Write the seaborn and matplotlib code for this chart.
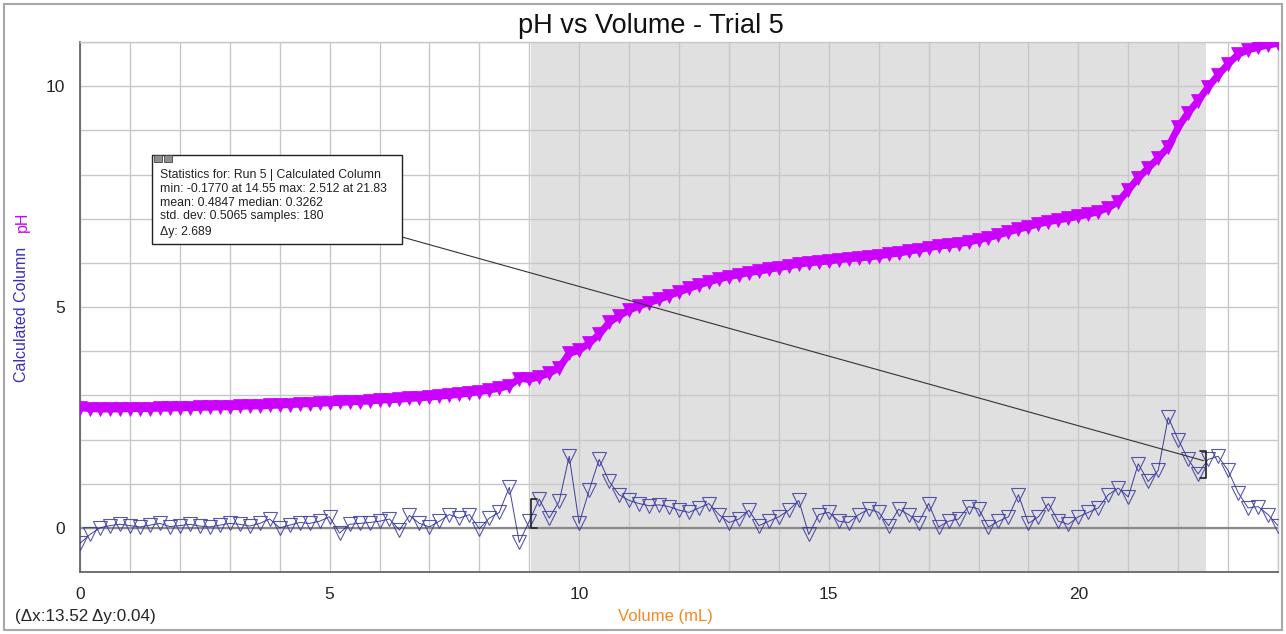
import numpy as np
import matplotlib
matplotlib.use("Agg")
import matplotlib.pyplot as plt
from matplotlib.patches import Rectangle
from matplotlib.ticker import MultipleLocator
import seaborn as sns

sns.set_style("white")
plt.rcParams["font.family"] = ["Liberation Sans", "DejaVu Sans"]

PH_COLOR = "#cc00ff"
CALC_COLOR = "#1f1f8f"

# titrant volume (mL), one reading every 0.2 mL
volume = [
    0.0, 0.2, 0.4, 0.6, 0.8, 1.0, 1.2, 1.4, 1.6, 1.8, 2.0, 2.2, 2.4, 2.6, 2.8,
    3.0, 3.2, 3.4, 3.6, 3.8, 4.0, 4.2, 4.4, 4.6, 4.8, 5.0, 5.2, 5.4, 5.6, 5.8,
    6.0, 6.2, 6.4, 6.6, 6.8, 7.0, 7.2, 7.4, 7.6, 7.8, 8.0, 8.2, 8.4, 8.6, 8.8,
    9.0, 9.2, 9.4, 9.6, 9.8, 10.0, 10.2, 10.4, 10.6, 10.8, 11.0, 11.2, 11.4,
    11.6, 11.8, 12.0, 12.2, 12.4, 12.6, 12.8, 13.0, 13.2, 13.4, 13.6, 13.8,
    14.0, 14.2, 14.4, 14.6, 14.8, 15.0, 15.2, 15.4, 15.6, 15.8, 16.0, 16.2,
    16.4, 16.6, 16.8, 17.0, 17.2, 17.4, 17.6, 17.8, 18.0, 18.2, 18.4, 18.6,
    18.8, 19.0, 19.2, 19.4, 19.6, 19.8, 20.0, 20.2, 20.4, 20.6, 20.8, 21.0,
    21.2, 21.4, 21.6, 21.8, 22.0, 22.2, 22.4, 22.6, 22.8, 23.0, 23.2, 23.4,
    23.6, 23.8, 24.0,
]

ph = [
    2.72, 2.70, 2.69, 2.69, 2.69, 2.70, 2.70, 2.70, 2.71, 2.71, 2.72, 2.72,
    2.73, 2.73, 2.74, 2.74, 2.75, 2.76, 2.76, 2.77, 2.78, 2.79, 2.80, 2.81,
    2.82, 2.83, 2.84, 2.85, 2.86, 2.87, 2.89, 2.90, 2.91, 2.93, 2.94, 2.96,
    2.98, 3.00, 3.02, 3.05, 3.08, 3.12, 3.16, 3.22, 3.38, 3.36, 3.42, 3.50,
    3.62, 3.95, 4.02, 4.18, 4.38, 4.65, 4.80, 4.93, 5.02, 5.10, 5.17, 5.26,
    5.34, 5.42, 5.50, 5.57, 5.63, 5.69, 5.73, 5.78, 5.81, 5.85, 5.89, 5.93,
    5.97, 6.00, 6.02, 6.04, 6.07, 6.09, 6.11, 6.13, 6.16, 6.19, 6.22, 6.26,
    6.30, 6.34, 6.38, 6.40, 6.43, 6.47, 6.52, 6.57, 6.63, 6.70, 6.76, 6.82,
    6.88, 6.93, 6.97, 7.01, 7.05, 7.10, 7.16, 7.25, 7.38, 7.65, 7.92, 8.15,
    8.37, 8.62, 9.07, 9.40, 9.67, 9.98, 10.25, 10.50, 10.72, 10.82, 10.88,
    10.93, 10.97,
]

calc_col = [
    -0.35, -0.15, 0.00, 0.05, 0.08, 0.05, 0.02, 0.06, 0.10, 0.03, 0.05, 0.08,
    0.04, 0.02, 0.06, 0.10, 0.08, 0.04, 0.10, 0.20, 0.00, 0.06, 0.12, 0.10,
    0.15, 0.25, -0.12, 0.08, 0.10, 0.12, 0.15, 0.20, -0.05, 0.28, 0.10, 0.02,
    0.15, 0.30, 0.22, 0.30, -0.02, 0.22, 0.35, 0.92, -0.33, 0.15, 0.65, 0.22,
    0.60, 1.62, 0.10, 0.85, 1.55, 1.05, 0.75, 0.62, 0.55, 0.50, 0.52, 0.48,
    0.40, 0.35, 0.45, 0.55, 0.30, 0.12, 0.20, 0.40, 0.05, 0.15, 0.25, 0.40,
    0.62, -0.15, 0.30, 0.35, 0.15, 0.12, 0.30, 0.42, 0.35, 0.05, 0.42, 0.30,
    0.12, 0.55, 0.02, 0.15, 0.20, 0.48, 0.43, 0.02, 0.15, 0.25, 0.75, 0.10,
    0.25, 0.55, 0.15, 0.08, 0.25, 0.35, 0.45, 0.75, 0.90, 0.70, 1.45, 1.05,
    1.30, 2.50, 2.00, 1.55, 1.22, 1.55, 1.62, 1.30, 0.80, 0.45, 0.48, 0.30,
    0.05,
]

# selected statistics region and the bracket ends
region = (9.04, 22.56)
bracket_lo = (0.0, 0.65)
bracket_hi = (1.12, 1.75)

stats_lines = [
    "Statistics for: Run 5 | Calculated Column",
    "min: -0.1770 at 14.55 max: 2.512 at 21.83",
    "mean: 0.4847 median: 0.3262",
    "std. dev: 0.5065 samples: 180",
    "\u0394y: 2.689",
]
stats_rows = [175, 189, 203, 216, 232]

W, H = 1286, 634
fig = plt.figure(figsize=(W / 100, H / 100), dpi=100)
ax = fig.add_axes([80 / W, 1 - 572 / H, 1198 / W, 530 / H])

ax.axvspan(*region, color="#e0e0e0", zorder=0.1, lw=0)
ax.axhline(0, color="#8a8a8a", lw=1.6, zorder=0.6)

sns.lineplot(x=volume, y=ph, ax=ax, color=PH_COLOR, lw=5, marker="v",
             markersize=10, markerfacecolor=PH_COLOR, markeredgecolor=PH_COLOR,
             markeredgewidth=0.5, sort=False, estimator=None, zorder=3)
sns.lineplot(x=volume, y=calc_col, ax=ax, color=CALC_COLOR, lw=0.7, marker="v",
             markersize=10, markerfacecolor="none", markeredgecolor="#3a3aa0",
             markeredgewidth=0.8, alpha=0.85, sort=False, estimator=None, zorder=3)

# region brackets
ax.plot([region[0] + 0.12, region[0], region[0], region[0] + 0.12],
        [bracket_lo[1], bracket_lo[1], bracket_lo[0], bracket_lo[0]],
        color="#222222", lw=1.2, zorder=4)
ax.plot([region[1] - 0.12, region[1], region[1], region[1] - 0.12],
        [bracket_hi[1], bracket_hi[1], bracket_hi[0], bracket_hi[0]],
        color="#222222", lw=1.2, zorder=4)

ax.set_xlim(0, 24)
ax.set_ylim(-1, 11)
ax.xaxis.set_major_locator(MultipleLocator(5))
ax.xaxis.set_minor_locator(MultipleLocator(1))
ax.yaxis.set_major_locator(MultipleLocator(5))
ax.yaxis.set_minor_locator(MultipleLocator(1))
ax.set_axisbelow(True)
ax.grid(True, which="both", color="#c8c8c8", lw=1.0)
ax.tick_params(which="major", direction="out", length=5, width=1,
               color="#555555", labelsize=12.5, pad=6)
ax.tick_params(which="minor", direction="out", length=3, width=1,
               color="#555555")
for side in ["left", "bottom"]:
    ax.spines[side].set_color("#666666")
    ax.spines[side].set_linewidth(1.3)
for side in ["top", "right"]:
    ax.spines[side].set_color("#c8c8c8")
    ax.spines[side].set_linewidth(1.0)
ax.set_xlabel("")
ax.set_ylabel("")

fig.text(651 / W, 1 - 26 / H, "pH vs Volume - Trial 5", ha="center",
         va="center", fontsize=19.5, color="#111111")
fig.text(665 / W, 1 - 617 / H, "Volume (mL)", ha="center", va="center",
         fontsize=12, color="#f5891f")
fig.text(22 / W, 1 - 314 / H, "Calculated Column", ha="center", va="center",
         rotation=90, fontsize=11.5, color="#3a2fc0")
fig.text(22 / W, 1 - 222 / H, "pH", ha="center", va="center",
         rotation=90, fontsize=11.5, color=PH_COLOR)
fig.text(15 / W, 1 - 617 / H, "(\u0394x:13.52 \u0394y:0.04)", ha="left",
         va="center", fontsize=12.3)

# statistics box
fig.patches.append(Rectangle((152 / W, 1 - 244 / H), 250 / W, 89 / H,
                             transform=fig.transFigure, facecolor="white",
                             edgecolor="#222222", lw=1.0, zorder=5))
for x0 in [154, 164]:
    fig.patches.append(Rectangle((x0 / W, 1 - 162 / H), 8 / W, 7 / H,
                                 transform=fig.transFigure,
                                 facecolor="#909090", edgecolor="#444444",
                                 lw=0.6, zorder=6))
for row, line in zip(stats_rows, stats_lines):
    fig.text(160 / W, 1 - row / H, line, ha="left", va="center",
             fontsize=8.8, color="#222222", zorder=7)

ax.annotate("", xy=(region[1] - 0.05, 1.52), xycoords="data",
            xytext=(402 / W, 1 - 237 / H), textcoords="figure fraction",
            arrowprops=dict(arrowstyle="-", color="#333333", lw=0.8,
                            shrinkA=0, shrinkB=0), zorder=4)

# window frame
fig.patches.append(Rectangle((4 / W, 4 / H), 1278 / W, 626 / H,
                             transform=fig.transFigure, facecolor="none",
                             edgecolor="#a8a8a8", lw=1.5))

fig.savefig("out.png", dpi=100)
